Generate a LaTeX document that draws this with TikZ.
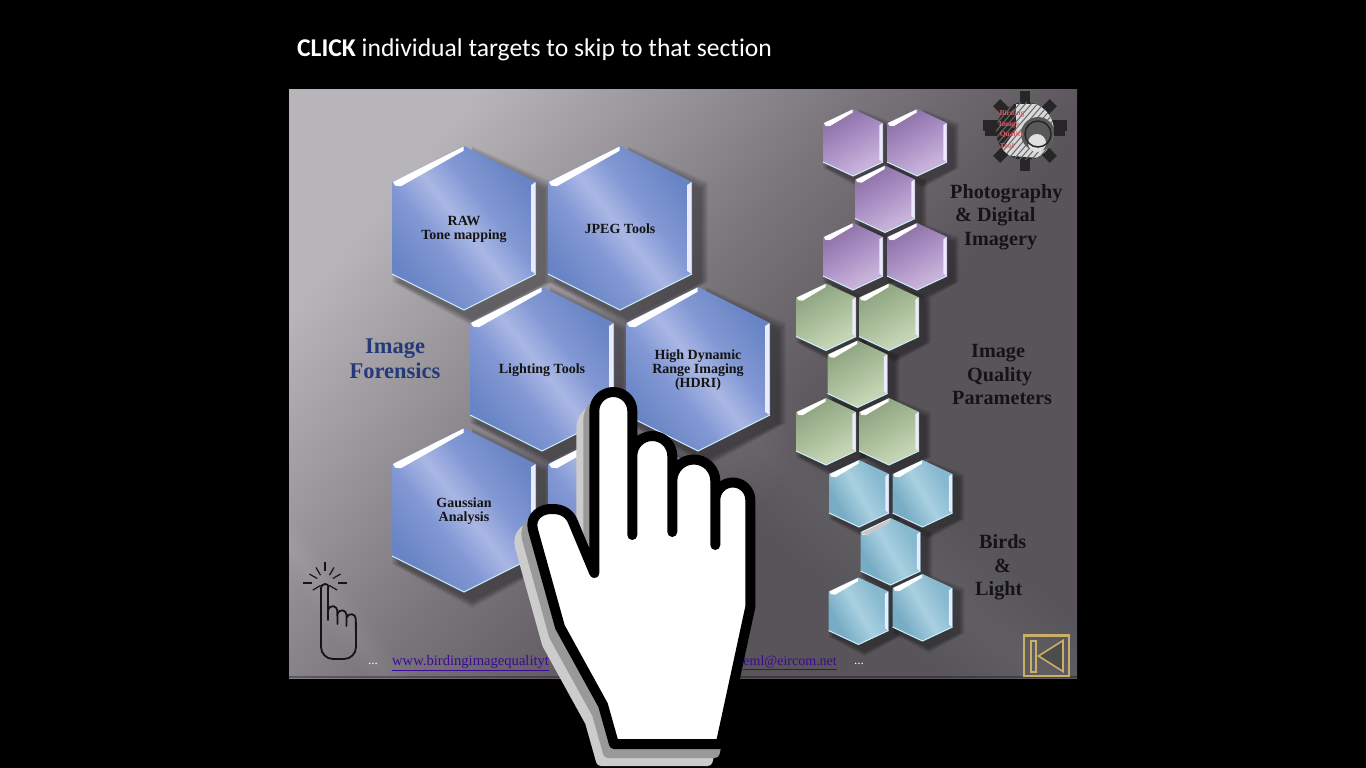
\documentclass[tikz,border=0pt]{standalone}
\usepackage{fontspec}
\setmainfont{Liberation Serif}
\newfontfamily\titlefont[Ligatures=NoCommon]{Carlito}
\usepackage{xcolor}
\usetikzlibrary{positioning,calc}
\definecolor{bglight}{RGB}{184,181,186}
\definecolor{bgmid}{RGB}{122,118,124}
\definecolor{bgdark}{RGB}{88,84,90}
\definecolor{linkcolor}{RGB}{60,10,150}
\definecolor{goldcolor}{RGB}{200,176,105}
\definecolor{titleblue}{RGB}{36,58,120}
\definecolor{logored}{RGB}{222,92,100}
\definecolor{blA}{RGB}{104,132,196}
\definecolor{blB}{RGB}{130,152,212}
\definecolor{blC}{RGB}{170,183,229}
\definecolor{puA}{RGB}{146,118,172}
\definecolor{puB}{RGB}{172,146,198}
\definecolor{puC}{RGB}{200,178,218}
\definecolor{grA}{RGB}{146,168,132}
\definecolor{grB}{RGB}{170,190,154}
\definecolor{grC}{RGB}{196,212,180}
\definecolor{cyA}{RGB}{120,172,196}
\definecolor{cyB}{RGB}{134,184,206}
\definecolor{cyC}{RGB}{168,208,224}
\pgfdeclareverticalshading{backdrop}{100bp}{color(0bp)=(bgdark); color(40bp)=(bgdark); color(54bp)=(bgmid); color(75bp)=(bglight); color(100bp)=(bglight)}
\pgfdeclareverticalshading{hexblue}{100bp}{color(0bp)=(blA); color(25bp)=(blA); color(40bp)=(blB); color(50bp)=(blC); color(60bp)=(blB); color(75bp)=(blA); color(100bp)=(blA)}
\pgfdeclareverticalshading{hexpurple}{100bp}{color(0bp)=(puA); color(30bp)=(puA); color(50bp)=(puB); color(70bp)=(puC); color(100bp)=(puC)}
\pgfdeclareverticalshading{hexgreen}{100bp}{color(0bp)=(grA); color(30bp)=(grA); color(50bp)=(grB); color(70bp)=(grC); color(100bp)=(grC)}
\pgfdeclareverticalshading{hexcyan}{100bp}{color(0bp)=(cyA); color(30bp)=(cyA); color(50bp)=(cyC); color(70bp)=(cyB); color(100bp)=(cyB)}
% one hexagon: shade name, node name, centre x, centre y, half width, half height, side offset, bevel, text
\newcommand{\hexcell}[9]{
\foreach \k in {1,...,8}{\pgfmathsetmacro{\q}{\k*#8/6}\fill[black,opacity=0.05] ($(#3,#4)+(1.35*#8,1.35*#8)$) -- ++(0,-#6-\q) -- ++(#5+\q,#6-#7) -- ++(0,2*#7+\q) -- ++(-#5-\q,#6-#7+\q) -- ++(-#5-\q,-#6+#7-\q) -- ++(0,-2*#7-\q) -- cycle;}
\shade[shading=#1,shading angle=\hexangle] (#3,#4-#6) -- (#3+#5,#4-#7) -- (#3+#5,#4+#7) -- (#3,#4+#6) -- (#3-#5,#4+#7) -- (#3-#5,#4-#7) -- cycle;
\fill[white] (#3-#5+1,#4-#7) -- (#3-0.5,#4-#6+0.5) -- (#3-0.5,#4-#6+#8*0.8) -- (#3-#5+1.5*#8,#4-#7+0.7*#8) -- (#3-#5+#8*0.5,#4-#7+#8*0.6) -- cycle;
\fill[white!92!blue] (#3+#5-0.3,#4-#7) -- (#3+#5-0.3,#4+#7) -- (#3+#5-0.8*#8,#4+#7-0.5*#8) -- (#3+#5-0.8*#8,#4-#7+0.5*#8) -- cycle;
\draw[white!80!cyan,line width=1pt] (#3+#5,#4+#7) -- (#3,#4+#6) -- (#3-#5,#4+#7);
\node[hexlabel] (#2) at (#3,#4+1) {#9};
}
\tikzset{
hexlabel/.style={align=center,font=\fontsize{14}{14}\selectfont\bfseries,text=black!92,inner sep=0pt},
grouplabel/.style={align=left,anchor=west,inner sep=0pt,text=black!92,font=\fontsize{20.2}{23.5}\selectfont\bfseries},
linklabel/.style={inner sep=0pt,text=linkcolor,font=\fontsize{14.6}{15}\selectfont},
logotext/.style={inner sep=0pt,text=logored,font=\fontsize{7.6}{8}\selectfont\bfseries},
handline/.style={line width=10pt,line cap=round,line join=round},
iconline/.style={line width=1.8pt,color=black!92,line cap=round,line join=round}
}
\def\handshape{(594.3,573) -- (594.3,411) arc[start angle=180,end angle=360,radius=19] -- (632.3,535) (632.3,456) arc[start angle=180,end angle=360,radius=20] -- (672.3,532) (672.3,481) arc[start angle=180,end angle=360,radius=21.5] -- (715.3,545) (715.3,500) arc[start angle=180,end angle=360,radius=17.5] -- (750.3,607) -- (720.7,744) -- (614,744) -- (603,705) -- (560,627) -- (533,530) .. controls (529,516) and (542,508) .. (553,509) .. controls (563,509) and (570,514) .. (573,522) -- (594.3,573)}
\def\handfill{(594.3,573) -- (594.3,411) arc[start angle=180,end angle=360,radius=19] -- (632.3,456) arc[start angle=180,end angle=360,radius=20] -- (672.3,481) arc[start angle=180,end angle=360,radius=21.5] -- (715.3,500) arc[start angle=180,end angle=360,radius=17.5] -- (750.3,607) -- (720.7,744) -- (614,744) -- (603,705) -- (560,627) -- (533,530) .. controls (529,516) and (542,508) .. (553,509) .. controls (563,509) and (570,514) .. (573,522) -- cycle}
\begin{document}
\begin{tikzpicture}[x=1pt,y=-1pt]
\useasboundingbox (0,0) rectangle (1366,768);
\fill[black] (0,0) rectangle (1366,768);
% backdrop and its rays
\shade[shading=backdrop,shading angle=50] (289,90) rectangle (1077,678);
\begin{scope}
\clip (289,90) rectangle (1077,678);
\foreach \w in {15,30,...,120}{\draw[white,opacity=0.01,line width=\w pt] (200,0) -- (1200,800);}
\foreach \w in {6,12,...,36}{\draw[white,opacity=0.012,line width=\w pt] (240,480) -- (420,720);}
\fill[black,opacity=0.3] (289,676) rectangle (1077,678);
\end{scope}
\node[inner sep=0pt,anchor=west,text=white,font=\titlefont\fontsize{25.6}{28}\selectfont] (title) at (297,50) {\textbf{CLICK} individual targets to skip to that section};
% big hexagons
\def\hexangle{-52}
\hexcell{hexblue}{raw}{464}{228}{72}{82}{46}{6}{RAW\\Tone mapping}
\hexcell{hexblue}{jpeg}{620}{228}{72}{82}{46}{6}{JPEG Tools}
\hexcell{hexblue}{light}{542}{369}{72}{82}{46}{6}{Lighting Tools}
\hexcell{hexblue}{hdri}{698}{369}{72}{82}{46}{6}{High Dynamic\\Range Imaging\\(HDRI)}
\hexcell{hexblue}{gauss}{464}{510}{72}{82}{46}{6}{Gaussian\\Analysis}
\hexcell{hexblue}{hidden}{620}{510}{72}{82}{46}{6}{}
% small hexagons
\def\hexangle{-150}
\foreach \nm/\cx/\cy in {pa/853/142.5,pb/917/142.5,pc/885/199,pd/853/256.5,pe/917/256.5}{\hexcell{hexpurple}{\nm}{\cx}{\cy}{30}{33.5}{19.5}{4.5}{}}
\foreach \nm/\cx/\cy in {ga/826/317,gb/889/317,gc/857.5/374,gd/826/431.5,ge/889/431.5}{\hexcell{hexgreen}{\nm}{\cx}{\cy}{30}{33.5}{19.5}{4.5}{}}
\def\hexangle{-60}
\foreach \nm/\cx/\cy in {ca/859/493.5,cb/922.5/493.5,cc/890.5/551.5,cd/858.5/611,ce/922.5/607.5}{\hexcell{hexcyan}{\nm}{\cx}{\cy}{30}{33.5}{19.5}{4.5}{}}
\fill[black!22] (861,533) -- (890,519) -- (890,522.5) -- (867,535.5) -- cycle;
% labels
\node[grouplabel,text=titleblue,align=center,anchor=center,font=\fontsize{22.5}{25}\selectfont\bfseries] (forensics) at (395,358.5) {Image\\Forensics};
\node[grouplabel] (photo) at (950,217) {Photography\\\hspace*{5pt}\& Digital\\\hspace*{14pt}Imagery};
\node[grouplabel] (quality) at (952,374.5) {\hspace*{19pt}Image\\\hspace*{15pt}Quality\\Parameters};
\node[grouplabel] (birds) at (975,567.5) {\hspace*{4pt}Birds\\\hspace*{19pt}\&\\Light};
% logo
\begin{scope}
\foreach \a in {0,45,...,315}{\fill[black!85,rotate around={\a:(1025,131)}] (1020,91) rectangle (1030,110);}
\fill[black!85] (983,120) rectangle (1067,131);
\fill[black!85] (1025,131) circle[radius=29];
\clip (1025,131) circle[radius=29];
\fill[black!15] (1016,104) -- (1052,104) -- (1060,150) -- (1040,158) -- (998,155) -- (1016,130) -- cycle;
\foreach \d in {-70,-64,...,70}{\draw[black!60,line width=1pt] (1025+\d-30,165) -- (1025+\d+30,95);}
\fill[black!65] (1038,134) circle[radius=17];
\fill[black!12] (1037,143) circle[radius=9];
\draw[black!85,line width=1.5pt] (1038,134) circle[radius=13];
\end{scope}
\node[logotext] (lbird) at (1012,114) {Birding};
\node[logotext] (limage) at (1009,125) {Image};
\node[logotext] (lqual) at (1012,135) {Quality};
\node[logotext] (ltool) at (1007,146) {Tool};
% footer
\node[inner sep=0pt,text=white,font=\fontsize{13}{13}\selectfont] (dotsl) at (373,664) {...};
\node[linklabel,anchor=base west] (site) at (392,665.5) {\underline{www.birdingimagequalityt}};
\node[linklabel,anchor=base east,font=\fontsize{14}{15}\selectfont] (mail) at (837,665.5) {\underline{eml@eircom.net}};
\node[inner sep=0pt,text=white,font=\fontsize{13}{13}\selectfont] (dotsr) at (859,664) {...};
% back button
\draw[goldcolor,line width=2.6pt] (1024,635.5) rectangle (1069,676);
\draw[goldcolor,line width=1.4pt] (1031,641) rectangle (1036,672);
\draw[goldcolor,fill=black!70,line width=1.6pt,line join=miter] (1038.5,656) -- (1063,640.5) -- (1063,671.5) -- cycle;
% small hand icon
\draw[iconline] (321,647) -- (321,588) arc[start angle=180,end angle=340,radius=4];
\draw[iconline] (328,587) -- (328,620) (328,610) arc[start angle=190,end angle=360,radius=4.7] -- (337.5,624) (337.5,614) arc[start angle=190,end angle=360,radius=4.5] -- (346.5,626) (346.5,618) arc[start angle=190,end angle=360,radius=4.7] -- (356,647) arc[start angle=0,end angle=90,radius=12] -- (333,659) arc[start angle=90,end angle=180,radius=12];
\foreach \a/\r in {0/22,-30/18,-60/18,-90/21,-120/18,-150/18,180/22,150/14,30/14}{\draw[black!92,line width=1.2pt] (325,583)+(\a:{\r-9}) -- +(\a:\r);}
% big hand
\begin{scope}[shift={(-13,17)}]
\draw[handline,color=black!20,fill=black!20] \handfill;
\end{scope}
\begin{scope}[shift={(-6,9)}]
\draw[handline,color=black!40,fill=black!40] \handfill;
\end{scope}
\fill[white] \handfill;
\draw[handline] \handshape;
\end{tikzpicture}
\end{document}
